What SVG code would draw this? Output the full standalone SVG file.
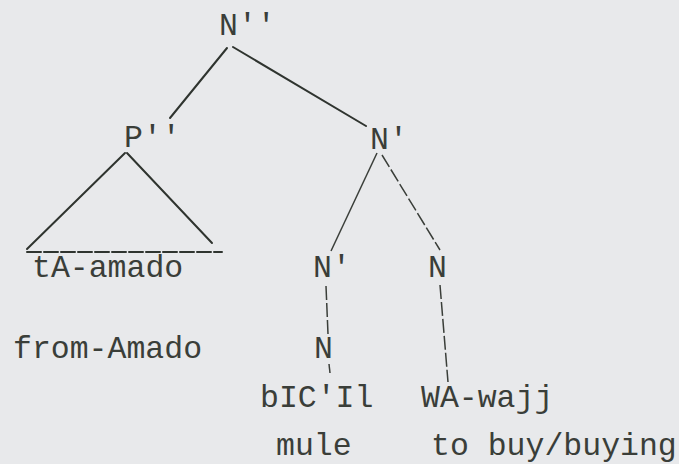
<svg xmlns="http://www.w3.org/2000/svg" width="679" height="464" viewBox="0 0 679 464">
<style>
text{font-family:"Liberation Mono","DejaVu Sans Mono",monospace;font-size:31.5px;fill:#3a3e39}
.e{stroke:#2f342f;stroke-width:2;fill:none;stroke-linecap:round}
.t{stroke:#3a3e39;stroke-width:1.5;fill:none}
.d{stroke-dasharray:14 3}
</style>
<rect width="679" height="464" fill="#e8e9eb"/>
<g id="connectors">
<line class="e" x1="227" y1="48" x2="170" y2="118"/>
<line class="e" x1="233" y1="47" x2="366" y2="126"/>
<line class="e" x1="125" y1="153" x2="27" y2="249"/>
<line class="e" x1="127" y1="153" x2="212" y2="243"/>
<line class="e d" x1="27" y1="252" x2="222" y2="252"/>
<line class="t" x1="377" y1="153" x2="331" y2="251"/>
<line class="t d" x1="382" y1="155" x2="440" y2="250"/>
<line class="t d" x1="326" y1="286" x2="328" y2="334"/>
<line class="t" x1="329" y1="364" x2="330" y2="373"/>
<line class="t d" x1="440" y1="285" x2="448" y2="382"/>
</g>
<g id="n-Npp"><text x="219" y="35">N''</text></g>
<g id="n-Ppp"><text x="124" y="147">P''</text></g>
<g id="n-Np-top"><text x="370" y="149">N'</text></g>
<g id="n-tA"><text x="32" y="277">tA-amado</text></g>
<g id="n-Np-low"><text x="313" y="277">N'</text></g>
<g id="n-N-right"><text x="428" y="277">N</text></g>
<g id="n-from"><text x="13" y="358">from-Amado</text></g>
<g id="n-N-low"><text x="314" y="358">N</text></g>
<g id="n-bIC"><text x="260" y="407">bIC'Il</text></g>
<g id="n-WA"><text x="421" y="407">WA-wajj</text></g>
<g id="n-mule"><text x="276" y="455">mule</text></g>
<g id="n-buy"><text x="431" y="455">to buy/buying</text></g>
</svg>
